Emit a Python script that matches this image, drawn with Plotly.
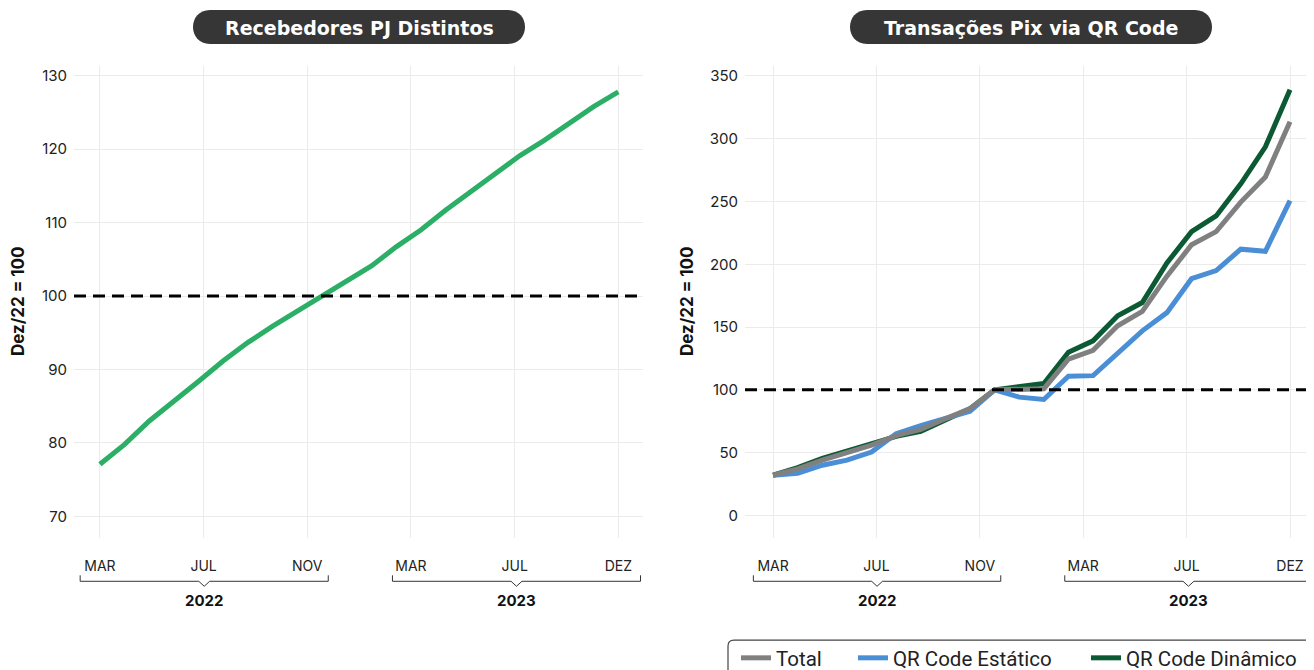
import plotly.graph_objects as go

# ---------------- data ----------------
months = list(range(22))  # MAR/2022 .. DEZ/2023 (monthly)
tick_labels = ["MAR", "JUL", "NOV", "MAR", "JUL", "DEZ"]
years = ["2022", "2023"]

recebedores_pj = [77.1, 79.8, 83.0, 85.6, 88.4, 91.2, 93.7, 95.9, 97.9, 100.0, 102.0,
                  104.1, 106.7, 109.0, 111.7, 114.1, 116.6, 119.1, 121.2, 123.6, 125.8, 127.8]

qr_total = [32, 37, 44, 49.5, 56, 63.5, 68.5, 77, 85, 100, 100.3, 100.8,
            124.5, 131.5, 151, 162.5, 190.5, 215.5, 226, 249.5, 269.5, 313.5]
qr_estatico = [32, 33.5, 40, 44, 50.5, 65, 71.5, 77.5, 83, 100, 94.2, 92.3,
               110.8, 111.3, 129.8, 147, 161.5, 188.5, 195, 212, 210.3, 250.7]
qr_dinamico = [32, 38, 45.5, 51, 57.5, 63, 67, 76.5, 85, 100, 102.5, 105,
               130, 139, 159, 169.5, 201, 226, 238.5, 264, 293.5, 339]

titles = ["Recebedores PJ Distintos", "Transações Pix via QR Code"]
y_title = "Dez/22 = 100"
base_value = 100

# ---------------- layout constants ----------------
W, H = 1314, 670
OFF = 8  # page body margin
FONT = "Inter, Roboto, sans-serif"
LEG_FONT = "Roboto, Inter, sans-serif"
TITLE_FONT = "DejaVu Sans, Inter, sans-serif"
C_GREEN = "#2BAE66"
C_GRAY = "#808080"
C_BLUE = "#4A8FD6"
C_DKGREEN = "#0B5A33"
GRID = "#EBEBEB"

def px_x(p):
    return (p - OFF) / W

def px_y(p):
    return 1 - (p - OFF) / H

dom1 = [px_x(74), px_x(643)]
dom2 = [px_x(745), 1.0]
ydom = [px_y(540), px_y(66)]

n = len(months) - 1
tickvals = [i * n / (len(tick_labels) - 1) for i in range(len(tick_labels))]

fig = go.Figure()

fig.add_trace(go.Scatter(x=months, y=recebedores_pj, mode="lines", xaxis="x", yaxis="y",
                         line=dict(color=C_GREEN, width=5), showlegend=False,
                         name="Recebedores PJ"))

fig.add_trace(go.Scatter(x=months, y=qr_dinamico, mode="lines", xaxis="x2", yaxis="y2",
                         line=dict(color=C_DKGREEN, width=5), name="QR Code Dinâmico",
                         legend="legend3"))
fig.add_trace(go.Scatter(x=months, y=qr_estatico, mode="lines", xaxis="x2", yaxis="y2",
                         line=dict(color=C_BLUE, width=5), name="QR Code Estático",
                         legend="legend2"))
fig.add_trace(go.Scatter(x=months, y=qr_total, mode="lines", xaxis="x2", yaxis="y2",
                         line=dict(color=C_GRAY, width=5), name="Total",
                         legend="legend"))

xaxis_common = dict(
    tickmode="array", tickvals=tickvals, ticktext=tick_labels,
    showgrid=True, gridcolor=GRID, gridwidth=1, zeroline=False, showline=False,
    ticks="", ticklabelstandoff=18,
    tickfont=dict(family=FONT, size=14, color="#222"),
)
yaxis_common = dict(
    showgrid=True, gridcolor=GRID, gridwidth=1, zeroline=False, showline=False,
    ticks="outside", ticklen=3, tickcolor="rgba(0,0,0,0)",
    tickfont=dict(family=FONT, size=15, color="#222"),
)

def legend_at(text_x):
    return dict(orientation="h", x=px_x(text_x - 42), y=px_y(660),
                xanchor="left", yanchor="middle",
                borderwidth=0, bgcolor="rgba(0,0,0,0)",
                font=dict(family=LEG_FONT, size=20.5, color="#222"))

fig.update_layout(
    width=W, height=H,
    margin=dict(l=0, r=0, t=0, b=0),
    paper_bgcolor="white", plot_bgcolor="white",
    font=dict(family=FONT, color="#222"),
    xaxis=dict(domain=dom1, range=[-1.05, 22.0], anchor="y", **xaxis_common),
    yaxis=dict(domain=ydom, range=[67.0, 131.36], anchor="x",
               tickvals=[70, 80, 90, 100, 110, 120, 130], **yaxis_common),
    xaxis2=dict(domain=dom2, range=[-1.14, 22.3], anchor="y2", **xaxis_common),
    yaxis2=dict(domain=ydom, range=[-18.3, 358], anchor="x2",
                tickvals=[0, 50, 100, 150, 200, 250, 300, 350], **yaxis_common),
    showlegend=True,
    legend=legend_at(778),
    legend2=legend_at(895),
    legend3=legend_at(1128),
)

shapes = []
annotations = []

# reference line at 100
for xr, yr in (("x", "y"), ("x2", "y2")):
    shapes.append(dict(type="line", xref=xr + " domain", yref=yr, x0=0, x1=1,
                       y0=base_value, y1=base_value,
                       line=dict(color="black", width=3, dash="12px,7px"), layer="above"))

# title pills
def pill_path(x0, x1, y0, y1):
    r = (y1 - y0) / 2
    k = 4 / 3 * r
    pts = [
        f"M{px_x(x0 + r)},{px_y(y0)}",
        f"L{px_x(x1 - r)},{px_y(y0)}",
        f"C{px_x(x1 - r + k)},{px_y(y0)} {px_x(x1 - r + k)},{px_y(y1)} {px_x(x1 - r)},{px_y(y1)}",
        f"L{px_x(x0 + r)},{px_y(y1)}",
        f"C{px_x(x0 + r - k)},{px_y(y1)} {px_x(x0 + r - k)},{px_y(y0)} {px_x(x0 + r)},{px_y(y0)}",
        "Z",
    ]
    return " ".join(pts)

pill_centers = [359, 1031]
pill_half_widths = [166, 181]
for cx, title, hw in zip(pill_centers, titles, pill_half_widths):
    shapes.append(dict(type="path", xref="paper", yref="paper",
                       path=pill_path(cx - hw, cx + hw, 10, 44),
                       fillcolor="#363636", line=dict(width=0), layer="above"))
    annotations.append(dict(xref="paper", yref="paper", x=px_x(cx), y=px_y(28),
                            text=f"<b>{title}</b>", showarrow=False,
                            font=dict(family=TITLE_FONT, size=19, color="white"),
                            xanchor="center", yanchor="middle"))

# y axis titles
for xpx in (18, 687):
    annotations.append(dict(xref="paper", yref="paper", x=px_x(xpx), y=px_y(302),
                            text=f"<b>{y_title}</b>", showarrow=False, textangle=-90,
                            font=dict(family=FONT, size=17, color="#111"),
                            xanchor="center", yanchor="middle"))

# year brackets
year_spans = [(-0.8, 9.25), (11.85, 21.9)]
yb_line, yb_top, yb_notch = px_y(583), px_y(577), px_y(588)
for xr in ("x", "x2"):
    for (a, b), yr_lbl in zip(year_spans, years):
        c = (a + b) / 2
        d = 0.22
        path = (f"M{a},{yb_top} L{a},{yb_line} L{c - d},{yb_line} L{c},{yb_notch} "
                f"L{c + d},{yb_line} L{b},{yb_line} L{b},{yb_top}")
        shapes.append(dict(type="path", xref=xr, yref="paper", path=path,
                           line=dict(color="#333", width=1)))
        annotations.append(dict(xref=xr, yref="paper", x=c, y=px_y(602),
                                text=f"<b>{yr_lbl}</b>", showarrow=False,
                                font=dict(family=FONT, size=15, color="#111"),
                                xanchor="center", yanchor="middle"))

# legend frame (rounded top-left corner)
r = 6
lx0, ly0 = 728, 642
frame = (f"M{px_x(lx0)},{px_y(700)} L{px_x(lx0)},{px_y(ly0 + r)} "
         f"Q{px_x(lx0)},{px_y(ly0)} {px_x(lx0 + r)},{px_y(ly0)} L{px_x(1340)},{px_y(ly0)}")
shapes.append(dict(type="path", xref="paper", yref="paper", path=frame,
                   line=dict(color="#444", width=1.2)))

fig.update_layout(shapes=shapes, annotations=annotations)

fig.write_html("out.html")
